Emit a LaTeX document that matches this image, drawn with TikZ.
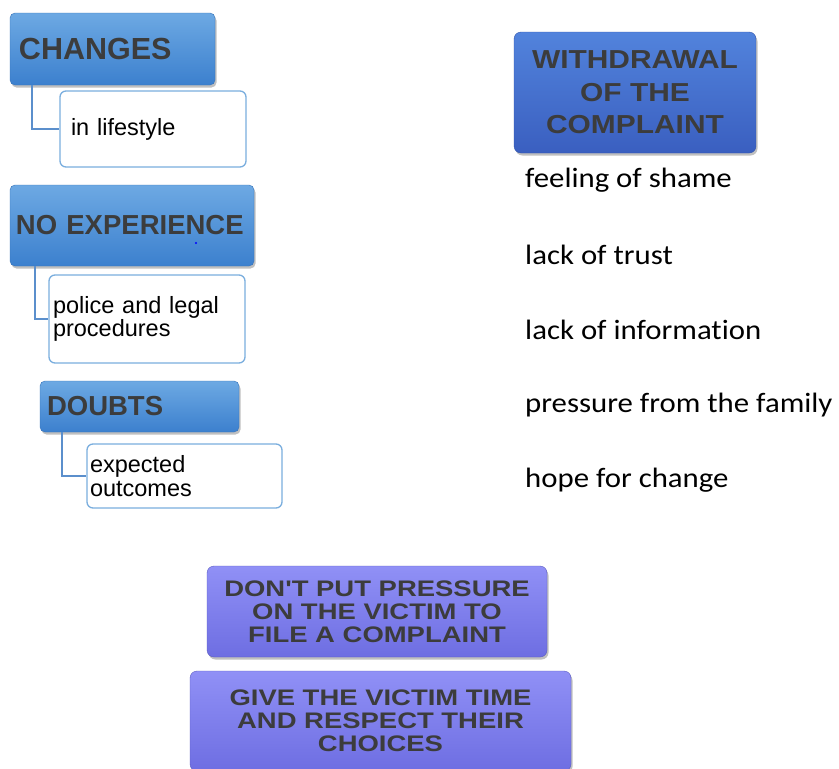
\documentclass[tikz,border=0pt]{standalone}
\usepackage{fontspec}
\setmainfont{Liberation Sans}
\newfontfamily\widefont{Liberation Sans}[FakeStretch=1.15]
\newfontfamily\widerfont{Liberation Sans}[FakeStretch=1.22]
\newfontfamily\calibrifont{Carlito}[FakeStretch=1.1,Ligatures={NoCommon,NoRequired,NoContextual}]
\usetikzlibrary{shadows}
\definecolor{bluetop}{HTML}{6DA9E3}
\definecolor{bluebot}{HTML}{3C80CE}
\definecolor{deeptop}{HTML}{5283DC}
\definecolor{deepbot}{HTML}{3A5FC0}
\definecolor{violettop}{HTML}{9090F6}
\definecolor{violetbot}{HTML}{6E6EE2}
\definecolor{subline}{HTML}{7AAEDE}
\definecolor{linkline}{HTML}{5B8FCC}
\definecolor{titleink}{HTML}{3C3C3C}
\tikzset{
  shadowed/.style={drop shadow={shadow xshift=1.5pt,shadow yshift=-2.5pt,opacity=0.35,fill=black!70}},
  headbox/.style={shadowed,rounded corners=5pt,top color=bluetop,bottom color=bluebot,
    draw=bluebot!90!black,line width=0.4pt,text=titleink,font=\bfseries\fontsize{27.5}{29}\selectfont,
    align=left,inner xsep=9pt,inner ysep=0pt},
  subbox/.style={rounded corners=6pt,fill=white,draw=subline,line width=1.3pt,
    font=\fontsize{23.5}{23.5}\selectfont,align=left,inner xsep=7pt,inner ysep=0pt},
  deepbox/.style={shadowed,rounded corners=7pt,top color=deeptop,bottom color=deepbot,
    draw=deepbot!90!black,line width=0.4pt,text=titleink,font=\widefont\bfseries\fontsize{26}{32.5}\selectfont,
    align=center,inner sep=0pt},
  violetbox/.style={shadowed,rounded corners=7pt,top color=violettop,bottom color=violetbot,
    draw=violetbot!85!black,line width=0.4pt,text=titleink,font=\widerfont\bfseries\fontsize{22.5}{23}\selectfont,
    align=center,inner sep=0pt},
  reason/.style={anchor=west,font=\calibrifont\fontsize{28}{30}\selectfont,inner sep=0pt},
  link/.style={draw=linkline,line width=1.4pt}
}
\begin{document}
\begin{tikzpicture}[x=1pt,y=-1pt]
\useasboundingbox[fill=white] (0,0) rectangle (839,769);

% left column: headings with their sub-items
\node[headbox,minimum width=205pt,minimum height=72pt,text width=187pt,font=\bfseries\fontsize{30.5}{32}\selectfont] (changes) at (112.5,49) {CHANGES};
\node[subbox,minimum width=186pt,minimum height=76pt,text width=164pt,inner xsep=11pt] (lifestyle) at (153,129) {in lifestyle};
\draw[link] ([xshift=22pt]changes.south west) |- (lifestyle.west);

\node[headbox,minimum width=244pt,minimum height=81pt,text width=232pt,inner xsep=6pt] (noexp) at (132,225.5) {NO EXPERIENCE};
\fill[blue] (196,243) circle (1.2pt);
\node[subbox,minimum width=196pt,minimum height=88pt,text width=188pt,inner xsep=4pt] (police) at (147,319) {police and legal\\procedures};
\draw[link] ([xshift=25pt]noexp.south west) |- (police.west);

\node[headbox,minimum width=199pt,minimum height=51pt,text width=185pt,inner xsep=7pt] (doubts) at (139.5,406.5) {DOUBTS};
\node[subbox,minimum width=195pt,minimum height=64pt,text width=189pt,inner xsep=3pt] (outcomes) at (184.5,476) {expected\\outcomes};
\draw[link] ([xshift=22pt]doubts.south west) |- (outcomes.west);

% right column: reasons for withdrawing
\node[deepbox,minimum width=242pt,minimum height=121pt] (withdrawal) at (635,92.5) {WITHDRAWAL\\OF THE\\COMPLAINT};
\node[reason] (shame) at (525,180) {feeling of shame};
\node[reason] (trust) at (525,255) {lack of trust};
\node[reason] (info) at (525,330) {lack of information};
\node[reason] (family) at (525,405) {pressure from the family};
\node[reason] (hope) at (525,480) {hope for change};

% advice boxes
\node[violetbox,minimum width=340pt,minimum height=91pt] (pressure) at (377,611.5) {DON{\char"27}T PUT PRESSURE\\ON THE VICTIM TO\\FILE A COMPLAINT};
\node[violetbox,minimum width=381pt,minimum height=100pt] (respect) at (380.5,721) {GIVE THE VICTIM TIME\\AND RESPECT THEIR\\CHOICES};
\end{tikzpicture}
\end{document}
